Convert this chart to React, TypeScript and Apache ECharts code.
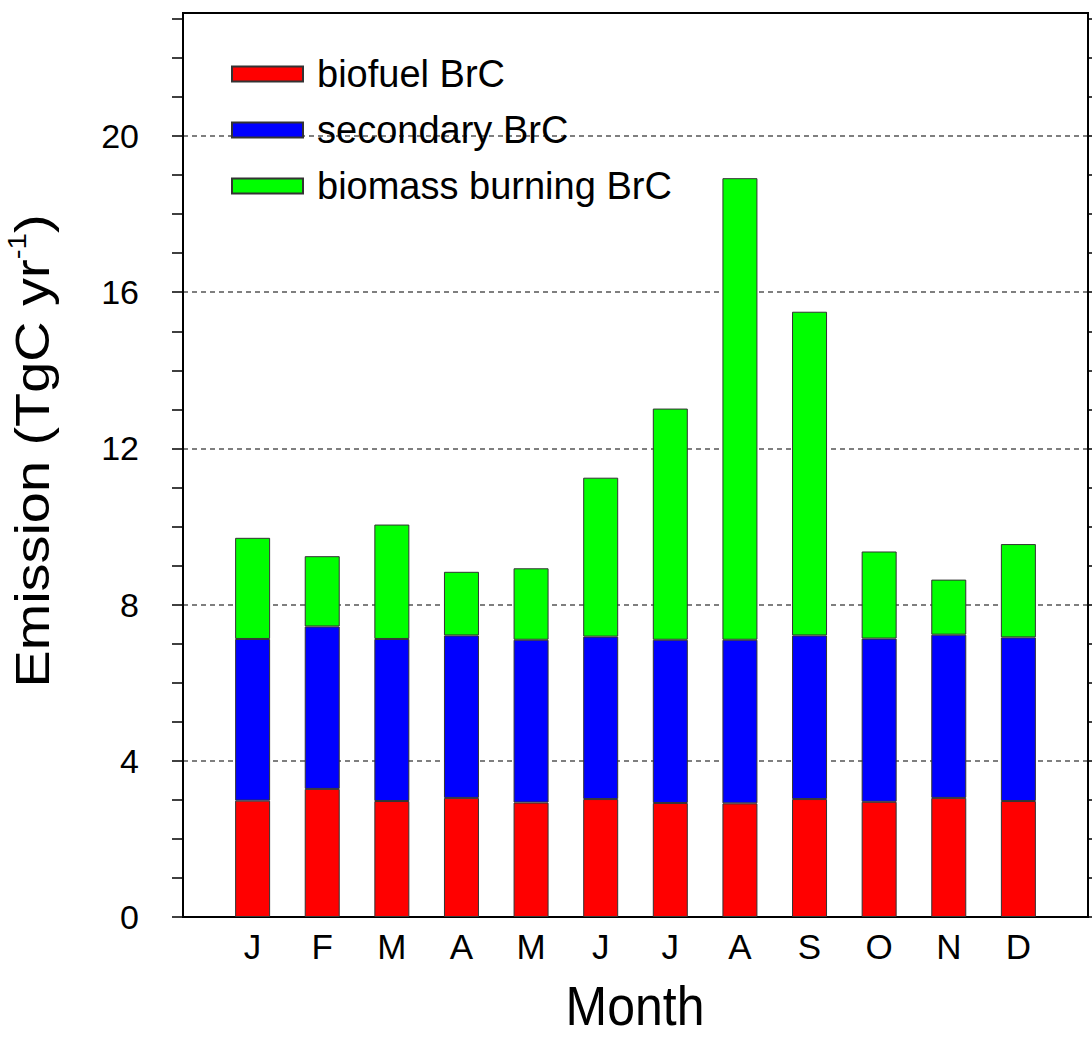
import React, { useEffect, useRef } from 'react';
import * as echarts from 'echarts';

const months = ['J', 'F', 'M', 'A', 'M', 'J', 'J', 'A', 'S', 'O', 'N', 'D'];
const biofuel = [2.98, 3.28, 2.97, 3.05, 2.93, 3.02, 2.92, 2.91, 3.02, 2.95, 3.05, 2.97];
const secondary = [4.14, 4.16, 4.15, 4.16, 4.17, 4.16, 4.18, 4.19, 4.19, 4.18, 4.18, 4.19];
const biomass = [2.59, 1.80, 2.93, 1.63, 1.83, 4.07, 5.92, 11.82, 8.29, 2.23, 1.41, 2.39];
const seriesNames = ['biofuel BrC', 'secondary BrC', 'biomass burning BrC'];
const seriesColors = ['#ff0000', '#0000ff', '#00ff00'];
const yLabelValues = [0, 4, 8, 12, 16, 20];
const yTickValues = [0, 1, 2, 3, 4, 5, 6, 7, 8, 9, 10, 11, 12, 13, 14, 15, 16, 17, 18, 19, 20, 21, 22, 23];
const yMax = 23.15;

const FONT = '"Liberation Sans", Arial, Helvetica, sans-serif';

// category slots: an empty slot before January and after December
const slotLabels = ['', ...months, ''];
const slotKeys = slotLabels.map((_, i) => 's' + i);
const pad = (arr: number[]) => [null, ...arr, null];

export default function App() {
  const ref = useRef<HTMLDivElement>(null);
  useEffect(() => {
    if (!ref.current) return;
    const chart = echarts.init(ref.current, undefined, { renderer: 'svg' });
    const seriesData = [biofuel, secondary, biomass];
    const option: any = {
      animation: false,
      backgroundColor: '#ffffff',
      grid: {
        left: 183,
        right: 4,
        top: 13,
        bottom: 124,
        show: true,
        borderColor: '#000',
        borderWidth: 2,
        backgroundColor: 'transparent',
      },
      legend: {
        orient: 'vertical',
        left: 226,
        top: 49,
        itemWidth: 71,
        itemHeight: 15,
        itemGap: 16,
        icon: 'rect',
        data: seriesNames,
        textStyle: {
          fontSize: 38,
          fontFamily: FONT,
          color: '#000',
          lineHeight: 40,
          padding: [0, 0, 0, 9],
        },
      },
      xAxis: {
        type: 'category',
        data: slotKeys,
        boundaryGap: false,
        axisLine: { show: true, lineStyle: { color: '#000', width: 2 } },
        axisTick: { show: false },
        splitLine: { show: false },
        axisLabel: {
          interval: 0,
          fontSize: 35,
          fontFamily: FONT,
          color: '#000',
          margin: 12,
          formatter: (_v: string, idx: number) => slotLabels[idx] ?? '',
        },
      },
      yAxis: [
        {
          type: 'value',
          position: 'left',
          min: 0,
          max: yMax,
          interval: 4,
          axisLine: { show: true, lineStyle: { color: '#000', width: 2 } },
          axisTick: { show: false },
          axisLabel: {
            customValues: yLabelValues,
            fontSize: 34,
            fontFamily: FONT,
            color: '#000',
            margin: 44,
            formatter: (v: number) => (v % 4 === 0 ? String(v) : ''),
          },
          splitLine: {
            show: true,
            showMinLine: false,
            showMaxLine: false,
            lineStyle: { color: '#555', width: 1.5, type: [5, 4] },
          },
        },
        {
          type: 'value',
          position: 'left',
          min: 0,
          max: yMax,
          interval: 1,
          axisLine: { show: false },
          axisTick: {
            show: true,
            inside: false,
            length: 11,
            customValues: yTickValues,
            lineStyle: { color: '#000', width: 1.5 },
          },
          axisLabel: { show: false },
          splitLine: { show: false },
        },
        {
          type: 'value',
          position: 'right',
          min: 0,
          max: yMax,
          interval: 1,
          axisLine: { show: true, lineStyle: { color: '#000', width: 2 } },
          axisTick: {
            show: true,
            inside: false,
            length: 11,
            customValues: yTickValues,
            lineStyle: { color: '#000', width: 1.5 },
          },
          axisLabel: { show: false },
          splitLine: { show: false },
        },
      ],
      series: seriesNames.map((name, i) => ({
        name,
        type: 'bar',
        stack: 'total',
        yAxisIndex: 0,
        barWidth: 35,
        itemStyle: { color: seriesColors[i], borderColor: '#333', borderWidth: 1 },
        data: pad(seriesData[i]),
      })),
      graphic: [
        {
          type: 'text',
          x: 32,
          y: 451,
          rotation: Math.PI / 2,
          scaleX: 1.14,
          style: {
            text: '{a|Emission (TgC yr}{s|-1}{a|)}',
            align: 'center',
            verticalAlign: 'middle',
            fill: '#000',
            rich: {
              a: { fontSize: 49, fontFamily: FONT, fill: '#000', lineHeight: 56 },
              s: { fontSize: 26, fontFamily: FONT, fill: '#000', verticalAlign: 'top', lineHeight: 30 },
            },
          },
        },
        {
          type: 'text',
          x: 635,
          y: 1006,
          scaleY: 1.1,
          style: {
            text: 'Month',
            fontSize: 50,
            fontFamily: FONT,
            fill: '#000',
            align: 'center',
            verticalAlign: 'middle',
          },
        },
      ],
    };
    chart.setOption(option);
    return () => chart.dispose();
  }, []);
  return (
    <div
      ref={ref}
      style={{ position: 'fixed', left: 0, top: 0, width: 1092, height: 1041, background: '#fff' }}
    />
  );
}
